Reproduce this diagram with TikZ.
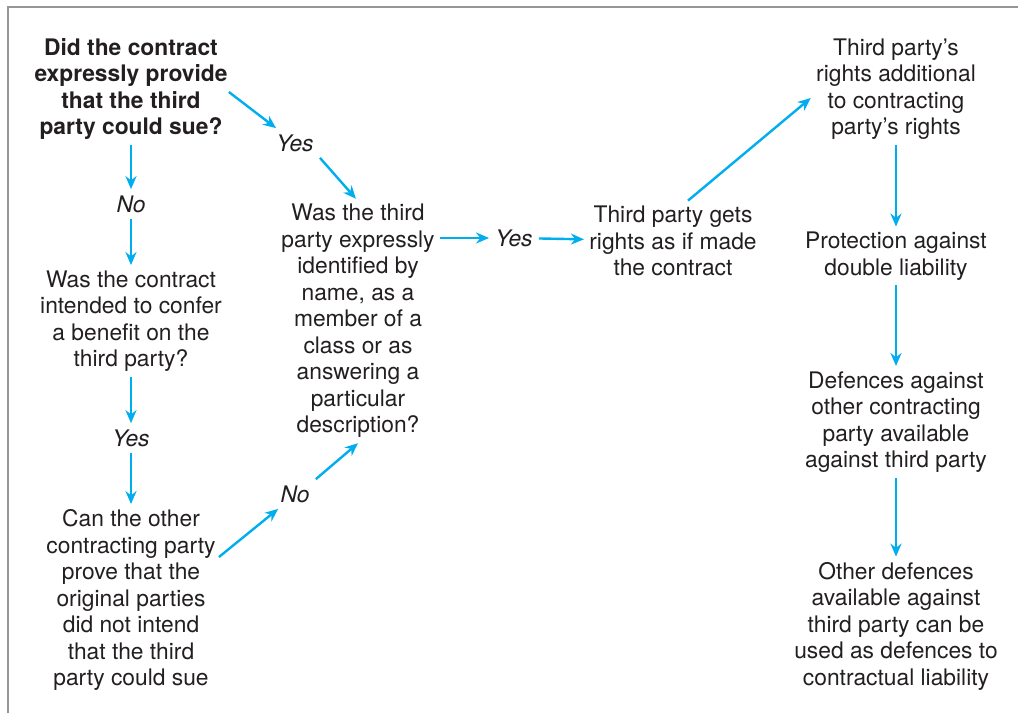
\documentclass[tikz,border=0pt]{standalone}
\usepackage{fontspec}
\setmainfont{TeX Gyre Heros}
\usetikzlibrary{arrows.meta}
\definecolor{flowcyan}{RGB}{0,174,239}
\definecolor{framegrey}{RGB}{150,150,150}
\definecolor{inkgrey}{RGB}{35,31,32}

\begin{document}
\begin{tikzpicture}[x=0.5pt,y=-0.5pt,
  box/.style={align=center,inner sep=2.5pt,text=inkgrey,font=\fontsize{11.4}{13.25}\selectfont},
  boldbox/.style={box,font=\fontsize{11.4}{13.25}\selectfont\bfseries},
  answer/.style={inner sep=3pt,text=inkgrey,font=\fontsize{11.4}{13.25}\selectfont\itshape},
  arr/.style={draw=flowcyan,line width=1.2pt,-{Stealth[length=6.5pt,width=5.5pt]}}]

\useasboundingbox (0,0) rectangle (1018,713);
\draw[framegrey,line width=1pt] (8,713) -- (8,7) -- (1018,7);

% left column
\node[boldbox] (q1) at (131,89) {Did the contract\\expressly provide\\that the third\\party could sue?};
\node[answer] (no1) at (131,204) {No};
\node[box] (q2) at (131,321) {Was the contract\\intended to confer\\a benefit on the\\third party?};
\node[answer] (yes2) at (131,438) {Yes};
\node[box] (q3) at (131,600) {Can the other\\contracting party\\prove that the\\original parties\\did not intend\\that the third\\party could sue};

% middle
\node[answer] (yes1) at (295,143) {Yes};
\node[answer] (no2) at (295,494) {No};
\node[box] (q4) at (358,321) {Was the third\\party expressly\\identified by\\name, as a\\member of a\\class or as\\answering a\\particular\\description?};
\node[answer] (yes3) at (514,238) {Yes};
\node[box] (r1) at (673,241) {Third party gets\\rights as if made\\the contract};

% right column
\node[box] (r2) at (896,89) {Third party’s\\rights additional\\to contracting\\party’s rights};
\node[box] (r3) at (896,256) {Protection against\\double liability};
\node[box] (r4) at (896,422) {Defences against\\other contracting\\party available\\against third party};
\node[box] (r5) at (896,626) {Other defences\\available against\\third party can be\\used as defences to\\contractual liability};

\draw[arr] (q1) -- (no1);
\draw[arr] (no1) -- (q2);
\draw[arr] (q2) -- (yes2);
\draw[arr] (yes2) -- (q3);
\draw[arr] ([xshift=-2pt,yshift=-1.5pt]q1.east) -- ([xshift=3pt]yes1.north west);
\draw[arr] (yes1.south east) -- ([xshift=-1pt]q4.north);
\draw[arr] ([xshift=-1pt,yshift=21.5pt]q3.east) -- ([xshift=2pt]no2.south west);
\draw[arr] (no2.north east) -- (q4.south);
\draw[arr] (q4.east |- yes3) -- (yes3);
\draw[arr] (yes3) -- (r1);
\draw[arr] ([xshift=7.5pt]r1.north) -- ([yshift=-4.5pt]r2.west);
\draw[arr] (r2) -- (r3);
\draw[arr] (r3) -- (r4);
\draw[arr] (r4) -- (r5);

\end{tikzpicture}
\end{document}
